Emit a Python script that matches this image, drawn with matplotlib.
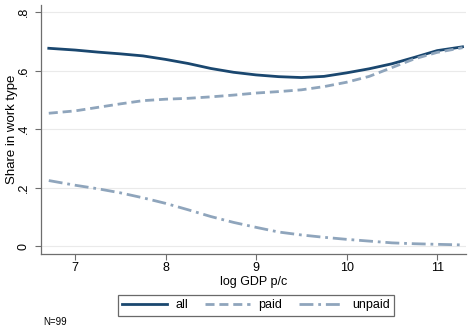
import matplotlib
matplotlib.use('Agg')
import matplotlib.pyplot as plt

plt.rcParams['font.family'] = ['Liberation Sans', 'DejaVu Sans']
plt.rcParams['lines.scale_dashes'] = False

# values
log_gdp = [6.71, 7.0, 7.25, 7.5, 7.75, 8.0, 8.25, 8.5, 8.75, 9.0, 9.25,
           9.5, 9.75, 10.0, 10.25, 10.5, 10.75, 11.0, 11.28]
share_all = [0.676, 0.670, 0.663, 0.657, 0.650, 0.638, 0.624, 0.607, 0.594,
             0.585, 0.579, 0.576, 0.580, 0.592, 0.606, 0.623, 0.645, 0.668,
             0.681]
share_paid = [0.454, 0.462, 0.474, 0.486, 0.497, 0.502, 0.505, 0.510, 0.516,
              0.523, 0.528, 0.534, 0.545, 0.560, 0.580, 0.610, 0.640, 0.662,
              0.678]
share_unpaid = [0.224, 0.208, 0.196, 0.182, 0.165, 0.146, 0.124, 0.101,
                0.081, 0.064, 0.048, 0.038, 0.030, 0.023, 0.017, 0.011,
                0.008, 0.006, 0.004]
x_ticks = [7, 8, 9, 10, 11]
y_ticks = [0, 0.2, 0.4, 0.6, 0.8]
y_tick_labels = ['0', '.2', '.4', '.6', '.8']

navy = '#1a476f'
grey_blue = '#8fa5bc'
axis_col = '#6e6e6e'

fig = plt.figure(figsize=(4.68, 3.32), dpi=100)
ax = fig.add_axes([0.0876, 0.235, 0.9084, 0.75])

for y in y_ticks:
    ax.axhline(y, color='#eaeaea', linewidth=0.8, zorder=0)

ax.plot(log_gdp, share_all, color=navy, linewidth=2.0, label='all')
ax.plot(log_gdp, share_paid, color=grey_blue, linewidth=2.0,
        dashes=(6.5, 3.5), label='paid')
ax.plot(log_gdp, share_unpaid, color=grey_blue, linewidth=2.0,
        dashes=(10, 3.5, 2, 3.5), label='unpaid')

ax.set_xlim(6.624, 11.32)
ax.set_ylim(-0.027, 0.824)
ax.set_xticks(x_ticks)
ax.set_yticks(y_ticks)
ax.set_yticklabels(y_tick_labels, rotation=90, va='center')
ax.tick_params(direction='out', length=4, width=0.8, color=axis_col,
               labelsize=9, pad=2)
ax.tick_params(axis='y', pad=4)

for side in ['top', 'right']:
    ax.spines[side].set_visible(False)
for side in ['left', 'bottom']:
    ax.spines[side].set_color(axis_col)
    ax.spines[side].set_linewidth(0.9)

ax.set_xlabel('log GDP p/c', fontsize=9, labelpad=1)
ax.set_ylabel('Share in work type', fontsize=9.5)
ax.yaxis.set_label_coords(-0.055, 0.5)

leg = fig.legend(loc='center', bbox_to_anchor=(0.547, 0.080), ncol=3,
                 fontsize=9, frameon=True, fancybox=False, handlelength=3.6,
                 columnspacing=1.3, handletextpad=0.7, borderpad=0.35)
leg.get_frame().set_edgecolor('#444444')
leg.get_frame().set_linewidth(0.9)

fig.text(0.092, 0.02, 'N=99', fontsize=7)

fig.savefig('out.png', dpi=100)
